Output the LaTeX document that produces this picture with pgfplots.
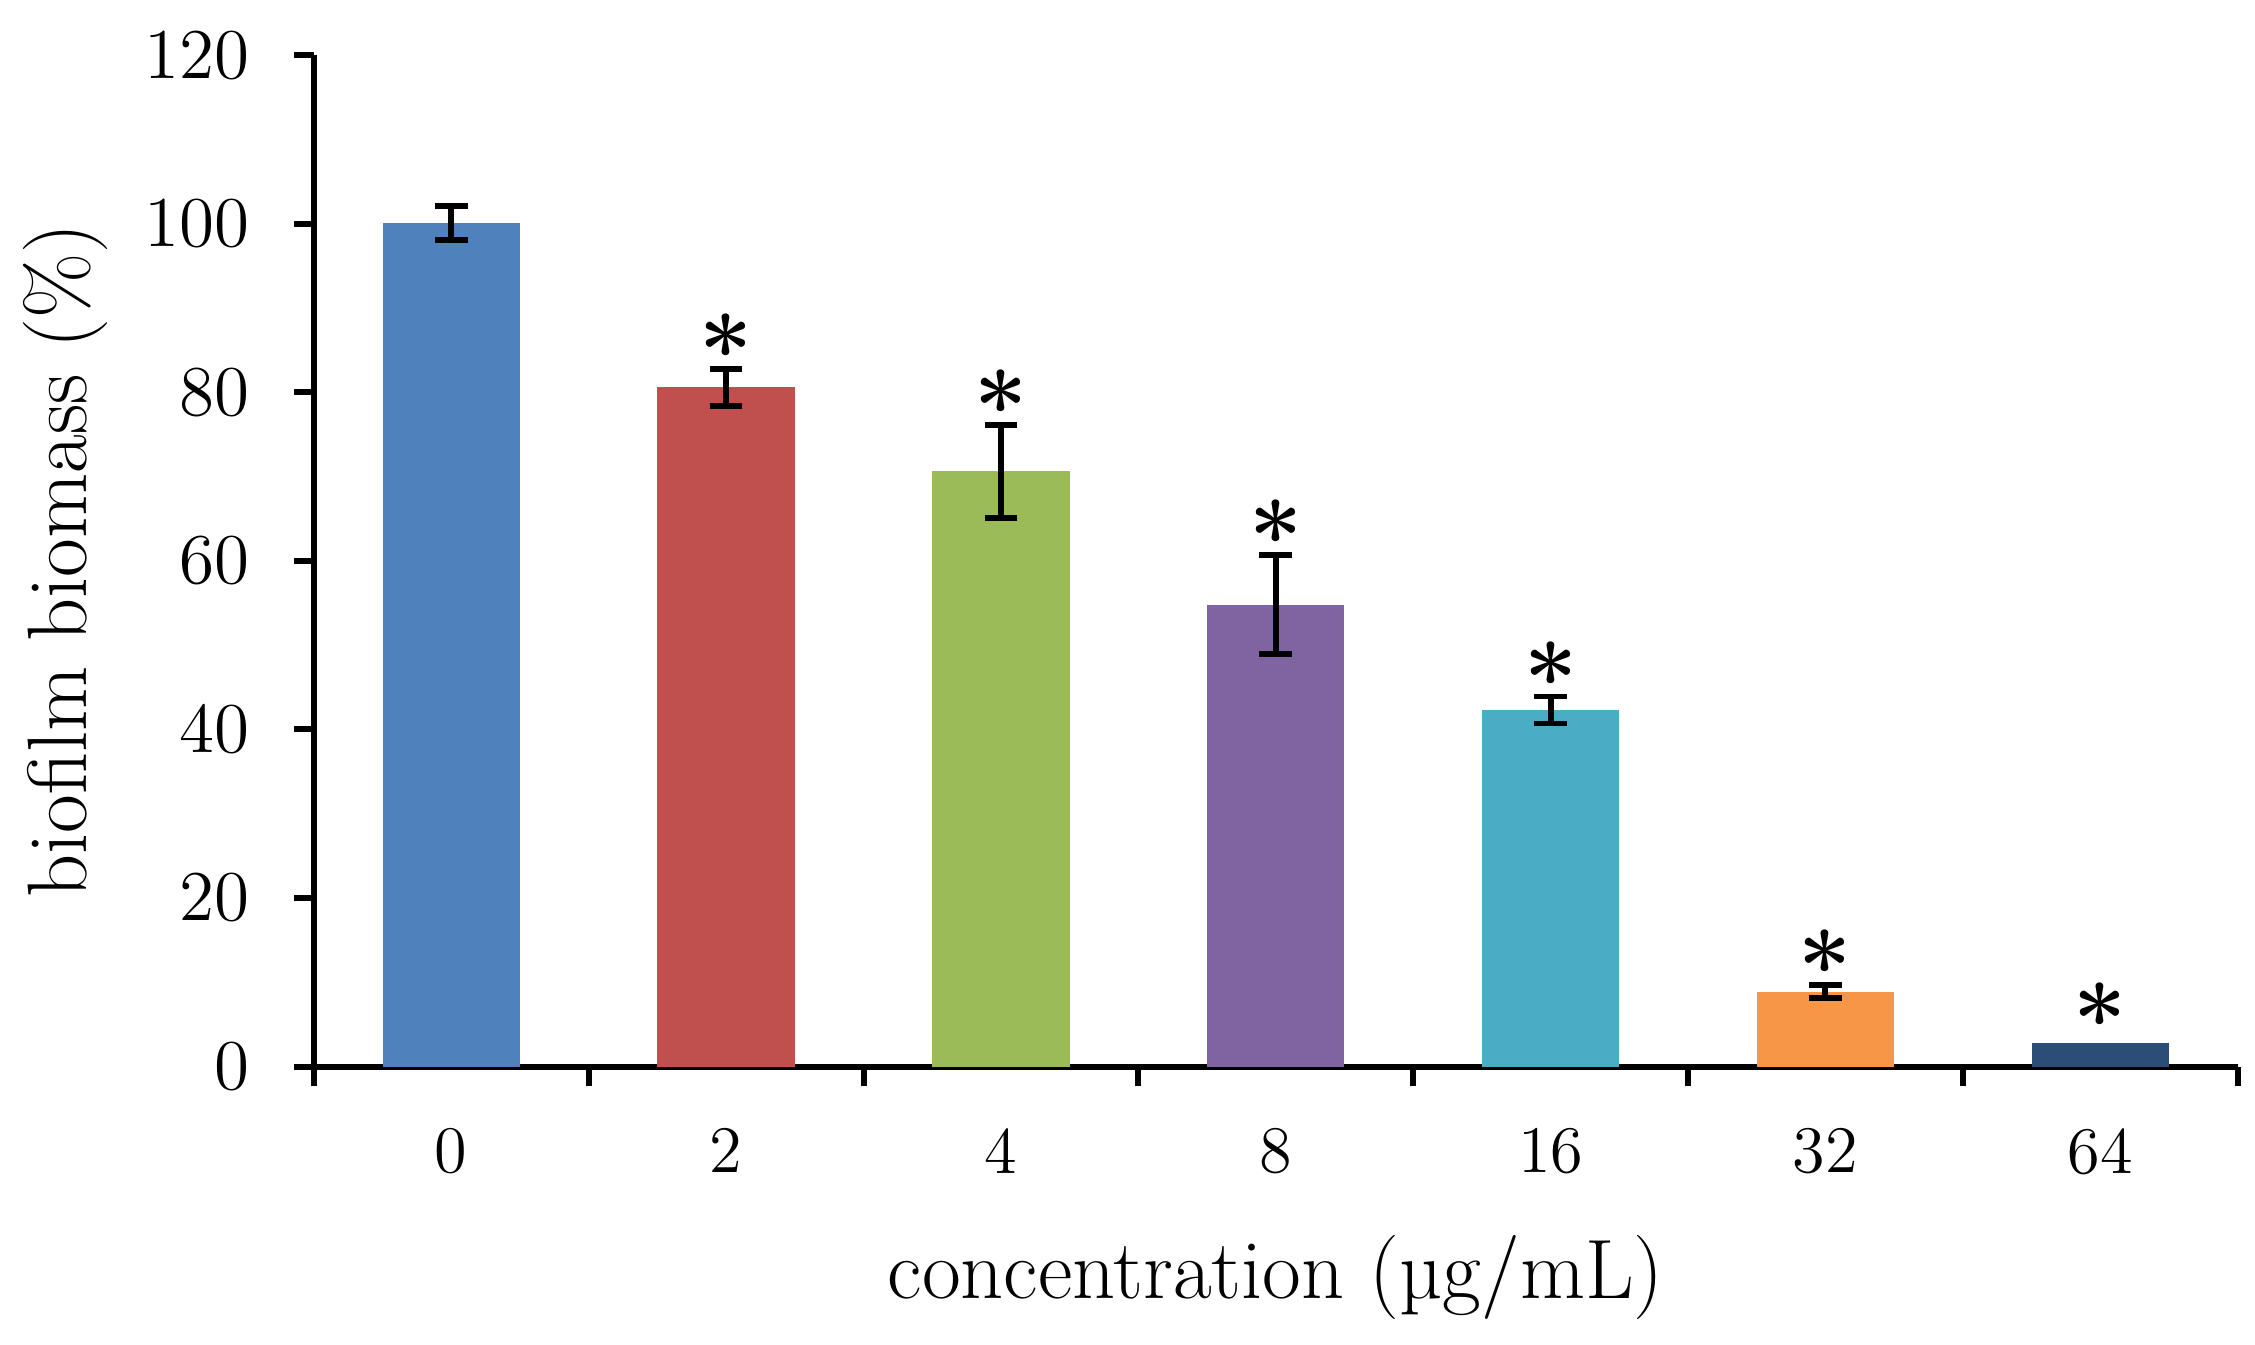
\documentclass[border=0pt]{standalone}
\usepackage{fontspec}
\usepackage{pgfplots}
\pgfplotsset{compat=1.18}
\usetikzlibrary{calc}

\definecolor{c0}{HTML}{4F81BD}
\definecolor{c2}{HTML}{C0504D}
\definecolor{c4}{HTML}{9BBB59}
\definecolor{c8}{HTML}{8064A2}
\definecolor{c16}{HTML}{4BACC6}
\definecolor{c32}{HTML}{F79646}
\definecolor{c64}{HTML}{2C4D75}

\pgfplotsset{
  plot_bar/.style={ybar, bar width=0.5, bar shift=0pt, draw=none},
  plot_err/.style={
    error bars/.cd, y dir=both, y explicit,
    error bar style={black, line width=1.2pt},
    error mark options={black, line width=1.2pt, mark size=3.3pt, rotate=90}},
}

\begin{document}
\begin{tikzpicture}
  \begin{axis}[%
    scale only axis,
    width=388pt, height=204pt,
    % x-axis
    xmin=-0.5, xmax=6.5,
    axis x line*=bottom,
    xtick={-0.5,0.5,...,6.5},
    xticklabels={},
    extra x ticks={0,1,2,3,4,5,6},
    extra x tick labels={0,2,4,8,16,32,64},
    extra x tick style={major tick length=0pt},
    xticklabel style={yshift=-9pt},
    xlabel={concentration (µg/mL)},
    xlabel style={at={(axis description cs:0.5,-0.209)}, anchor=center},
    % y-axis
    ymin=0, ymax=120,
    axis y line*=left,
    ytick={0,20,...,120},
    yticklabel style={xshift=-5.5pt},
    ylabel={biofilm biomass (\%)},
    ylabel style={at={(axis description cs:-0.129,0.5)}, anchor=center},
    % looks
    tick align=outside,
    major tick length=4pt,
    tick style={black, line width=1.2pt},
    axis line style={black, line width=1.2pt},
    tick label style={font=\fontsize{13.4}{16}\selectfont},
    label style={font=\fontsize{17}{20}\selectfont},
    clip=false,
    ]

    \addplot [plot_bar, fill=c0, plot_err] coordinates {(0,100.1) +- (0,2.0)};
    \addplot [plot_bar, fill=c2, plot_err] coordinates {(1,80.6) +- (0,2.2)};
    \addplot [plot_bar, fill=c4, plot_err] coordinates {(2,70.6) +- (0,5.5)};
    \addplot [plot_bar, fill=c8, plot_err] coordinates {(3,54.8) +- (0,5.9)};
    \addplot [plot_bar, fill=c16, plot_err] coordinates {(4,42.3) +- (0,1.6)};
    \addplot [plot_bar, fill=c32, plot_err] coordinates {(5,8.9) +- (0,0.8)};
    \addplot [plot_bar, fill=c64] coordinates {(6,2.8)};

    % significance stars, placed just above the error bars
    \addplot [draw=none, mark=none,
      nodes near coords={\fontsize{19}{19}\selectfont\bfseries *},
      nodes near coords style={anchor=base, inner sep=0pt, yshift=-3.2pt}]
      coordinates {
        (1,82.8)
        (2,76.1)
        (3,60.7)
        (4,43.9)
        (5,9.7)
        (6,3.4)
      };
  \end{axis}
  \pgfresetboundingbox
  \path ($(current axis.south west)+(-63.3pt,-56pt)$) rectangle ($(current axis.north east)+(3.5pt,11.1pt)$);
\end{tikzpicture}
\end{document}
